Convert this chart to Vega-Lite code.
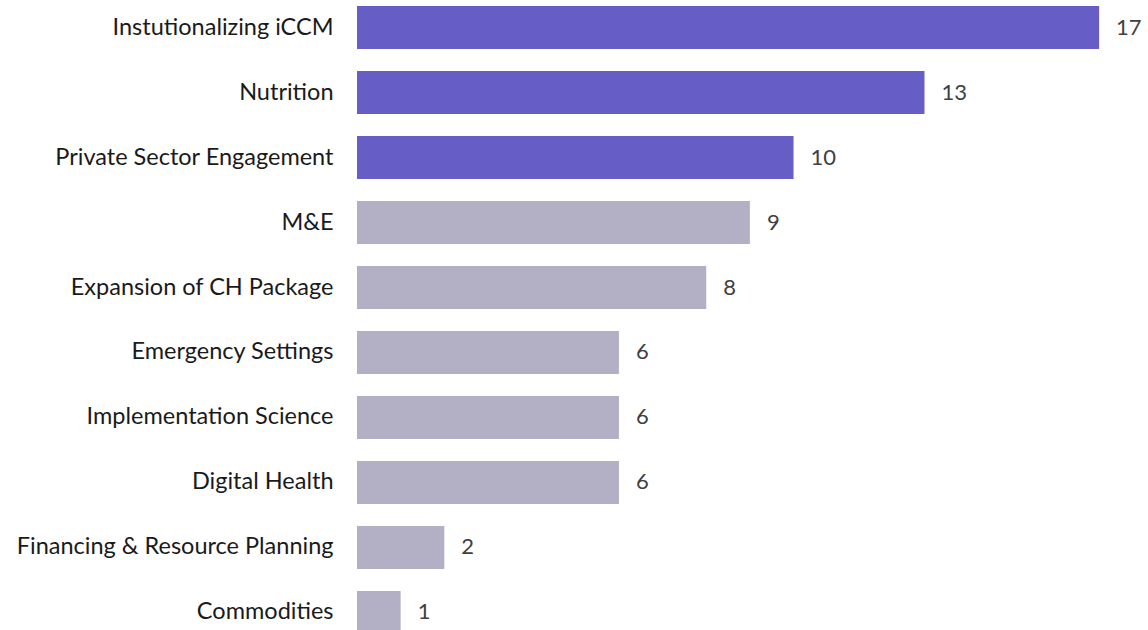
{
  "$schema": "https://vega.github.io/schema/vega-lite/v6.json",
  "autosize": {"type": "none"},
  "padding": {"top": 6, "left": 357, "right": 0, "bottom": 0},
  "width": 791,
  "height": 628,
  "background": "white",
  "data": {"values": [
    {"topic": "Instutionalizing iCCM", "count": 17, "group": "top"},
    {"topic": "Nutrition", "count": 13, "group": "top"},
    {"topic": "Private Sector Engagement", "count": 10, "group": "top"},
    {"topic": "M&E", "count": 9, "group": "other"},
    {"topic": "Expansion of CH Package", "count": 8, "group": "other"},
    {"topic": "Emergency Settings", "count": 6, "group": "other"},
    {"topic": "Implementation Science", "count": 6, "group": "other"},
    {"topic": "Digital Health", "count": 6, "group": "other"},
    {"topic": "Financing & Resource Planning", "count": 2, "group": "other"},
    {"topic": "Commodities", "count": 1, "group": "other"}
  ]},
  "config": {"view": {"stroke": null}, "font": "Lato"},
  "encoding": {
    "y": {"field": "topic", "type": "nominal", "sort": null,
      "scale": {"paddingInner": 0.338, "paddingOuter": 0},
      "axis": {"title": null, "domain": false, "ticks": false, "labelPadding": 24, "labelFontSize": 23.5, "labelColor": "#1a1a1a", "labelFont": "Lato", "labelLimit": 400}},
    "x": {"field": "count", "type": "quantitative",
      "scale": {"domain": [0, 18.12], "nice": false, "zero": true},
      "axis": null}
  },
  "layer": [
    {"mark": {"type": "bar"},
     "encoding": {"color": {"field": "group", "type": "nominal",
       "scale": {"domain": ["top", "other"], "range": ["#665EC6", "#B3B0C5"]}, "legend": null}}},
    {"mark": {"type": "text", "align": "left", "dx": 17, "fontSize": 22, "color": "#404040", "baseline": "middle"},
     "encoding": {"text": {"field": "count", "type": "quantitative"}}}
  ]
}
